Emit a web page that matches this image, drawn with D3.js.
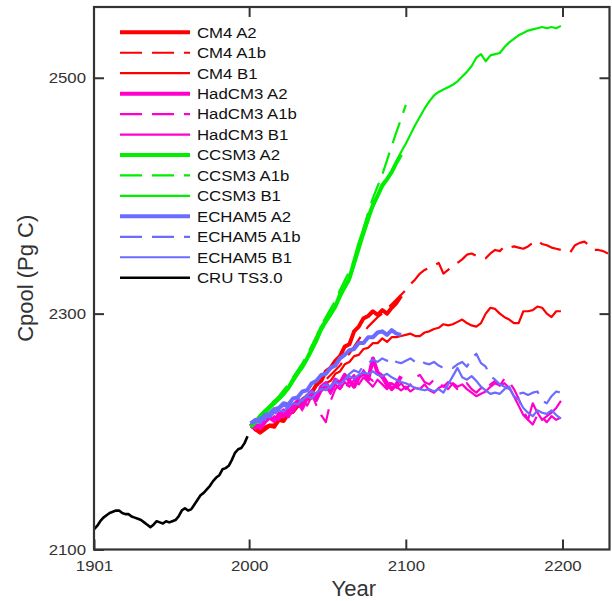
<!DOCTYPE html>
<html>
<head>
<meta charset="utf-8">
<script src="https://cdn.jsdelivr.net/npm/d3@7"></script>
<style>
  body { margin: 0; background: #fff; }
  text { font-family: "Liberation Sans", Arial, Helvetica, sans-serif; }
</style>
</head>
<body>
<div id="chart"></div>
<script>
// Model runs: annual-ish values sampled every 3 years starting 2001
const MODEL_START = 2001;
const MODEL_STEP = 3;
// Observed CRU: sampled every 2 years starting 1901
const CRU_START = 1901;
const CRU_STEP = 2;

const cm4A2 = [2207, 2202, 2199, 2202, 2205, 2204, 2210, 2209, 2215, 2217, 2222, 2225, 2230, 2233, 2240, 2243, 2251, 2254, 2260, 2264, 2272, 2274, 2285, 2289, 2296, 2298, 2302, 2299, 2303, 2300, 2305, 2309, 2315];
const cm4A1b = [2206, 2203, 2201, 2204, 2206, 2209, 2212, 2214, 2217, 2221, 2224, 2228, 2231, 2235, 2239, 2241, 2244, 2248, 2252, 2256, 2262, 2266, 2272, 2278, 2284, 2289, 2293, 2297, 2300, 2304, 2308, 2312, 2316,
  2320, 2325, 2329, 2334, 2337, 2339, 2341, 2343, 2334, 2337, 2340, 2343, 2346, 2350, 2351, 2349, 2347, 2347, 2351, 2354, 2353, 2357, 2356, 2357, 2356, 2355, 2357, 2360, 2362, 2359, 2358, 2356, 2355, 2354, 2353, 2352, 2358, 2360, 2361, 2358, 2354, 2354, 2353, 2351];
const cm4B1 = [2205, 2201, 2201, 2202, 2206, 2206, 2211, 2211, 2215, 2216, 2221, 2222, 2227, 2228, 2233, 2235, 2241, 2243, 2249, 2251, 2257, 2259, 2264, 2265, 2270, 2271, 2275, 2275, 2279, 2276, 2280, 2280, 2281,
  2282, 2283, 2281, 2281, 2284, 2285, 2287, 2288, 2291, 2290, 2291, 2293, 2295, 2292, 2290, 2289, 2292, 2300, 2305, 2304, 2300, 2297, 2295, 2292, 2292, 2302, 2302, 2303, 2306, 2305, 2300, 2297, 2302, 2302];

const hadA2 = [2204, 2206, 2203, 2208, 2212, 2209, 2214, 2218, 2213, 2222, 2226, 2220, 2230, 2234, 2228, 2238, 2241, 2235, 2244, 2241, 2248, 2243, 2238, 2246, 2250, 2244, 2262, 2250, 2247, 2241, 2236, 2240, 2247];
const hadA1b = [2205, 2202, 2207, 2211, 2206, 2213, 2210, 2217, 2212, 2220, 2224, 2218, 2228, 2232, 2222, 2214, 2208, 2226, 2236, 2240, 2234, 2244, 2248, 2240, 2252, 2246, 2243, 2250, 2245, 2238, 2243, 2237, 2241,
  2236, 2240, 2246, 2248, 2242, 2240, 2244, 2241, 2238, 2242, 2240, 2236, 2238, 2241, 2236, 2233, 2237, 2235, 2240, 2243, 2239, 2245, 2242, 2236, 2228, 2218, 2210, 2206, 2214, 2212, 2208, 2213, 2210, 2212];
const hadB1 = [2203, 2207, 2204, 2209, 2214, 2210, 2216, 2212, 2220, 2216, 2224, 2228, 2222, 2230, 2226, 2234, 2238, 2232, 2240, 2236, 2242, 2238, 2244, 2240, 2246, 2242, 2238, 2244, 2240, 2236, 2241, 2238, 2235,
  2238, 2234, 2237, 2236, 2240, 2235, 2233, 2237, 2239, 2236, 2241, 2238, 2240, 2236, 2233, 2230, 2232, 2234, 2238, 2241, 2239, 2241, 2237, 2230, 2222, 2214, 2210, 2224, 2216, 2210, 2213, 2216, 2220, 2226];

const ccsmA2 = [2204, 2208, 2213, 2217, 2221, 2225, 2228, 2232, 2237, 2244, 2250, 2255, 2262, 2270, 2278, 2288, 2294, 2300, 2306, 2316, 2323, 2330, 2344, 2358, 2370, 2382, 2392, 2400, 2409, 2414, 2420, 2428, 2435];
const ccsmA1b = [2205, 2209, 2214, 2218, 2222, 2226, 2230, 2235, 2240, 2246, 2252, 2258, 2265, 2273, 2281, 2290, 2297, 2304, 2311, 2320, 2328, 2336, 2345, 2358, 2372, 2386, 2398, 2408, 2418, 2430, 2442, 2454, 2465, 2477];
const ccsmB1 = [2204, 2207, 2211, 2215, 2219, 2223, 2227, 2231, 2236, 2242, 2248, 2254, 2261, 2268, 2276, 2285, 2292, 2298, 2305, 2313, 2321, 2328, 2340, 2353, 2366, 2378, 2390, 2399, 2407, 2413, 2421, 2429, 2437,
  2444, 2452, 2460, 2467, 2474, 2480, 2485, 2488, 2490, 2492, 2494, 2497, 2501, 2505, 2510, 2517, 2520, 2514, 2519, 2520, 2521, 2526, 2530, 2533, 2536, 2538, 2540, 2541, 2542, 2543, 2542, 2543, 2542, 2544];

const echamA2 = [2207, 2210, 2208, 2214, 2215, 2219, 2220, 2224, 2223, 2228, 2229, 2234, 2235, 2241, 2243, 2248, 2249, 2254, 2256, 2262, 2265, 2269, 2270, 2275, 2275, 2280, 2280, 2284, 2285, 2282, 2286, 2283, 2282];
const echamA1b = [2206, 2209, 2212, 2210, 2216, 2214, 2219, 2222, 2220, 2225, 2228, 2226, 2231, 2234, 2232, 2238, 2240, 2237, 2243, 2246, 2244, 2249, 2252, 2250, 2256, 2258, 2261, 2259, 2262, 2260, 2263, 2259, 2258,
  2260, 2262, 2259, 2261, 2258, 2257, 2259, 2256, 2254, 2255, 2254, 2257, 2259, 2255, 2262, 2266, 2258, 2255, 2247, 2244, 2240, 2238, 2236, 2234, 2232, 2233, 2231, 2233, 2234, 2226, 2224, 2230, 2234, 2233];
const echamB1 = [2207, 2208, 2211, 2213, 2212, 2216, 2218, 2217, 2221, 2224, 2223, 2227, 2230, 2228, 2233, 2236, 2235, 2239, 2242, 2240, 2244, 2247, 2245, 2248, 2250, 2249, 2251, 2248, 2247, 2249, 2246, 2244, 2242,
  2241, 2239, 2237, 2236, 2235, 2236, 2234, 2236, 2233, 2240, 2247, 2254, 2246, 2244, 2247, 2243, 2238, 2235, 2232, 2233, 2232, 2236, 2238, 2230, 2227, 2220, 2216, 2213, 2218, 2216, 2215, 2218, 2214, 2211];

const cru = [2117, 2120, 2124, 2127, 2129, 2131, 2132, 2133, 2133, 2131, 2130, 2130, 2128, 2127, 2126, 2125, 2123, 2121, 2119, 2121, 2124, 2123, 2122, 2124, 2123, 2124, 2125, 2128, 2133, 2135, 2133, 2134, 2138, 2142, 2146, 2148, 2151, 2154, 2158, 2161, 2163, 2168, 2169, 2171, 2176, 2182, 2185, 2186, 2190, 2196];

// Legend labels, same order as drawing
const seriesNames = ["CM4 A2", "CM4 A1b", "CM4 B1", "HadCM3 A2", "HadCM3 A1b", "HadCM3 B1", "CCSM3 A2", "CCSM3 A1b", "CCSM3 B1", "ECHAM5 A2", "ECHAM5 A1b", "ECHAM5 B1", "CRU TS3.0"];
const seriesValues = [cm4A2, cm4A1b, cm4B1, hadA2, hadA1b, hadB1, ccsmA2, ccsmA1b, ccsmB1, echamA2, echamA1b, echamB1, cru];

const xTicks = [1901, 2000, 2100, 2200];
const yTicks = [2100, 2300, 2500];

// Styles
const COLORS = ["#ff0000", "#ff0000", "#ff0000", "#ff00cc", "#ff00cc", "#ff00cc", "#00ee00", "#00ee00", "#00ee00", "#6b6bff", "#6b6bff", "#6b6bff", "#000000"];
const scenarioStyle = {
  A2: { width: 4, dash: null },
  A1b: { width: 2.2, dash: "22,10" },
  B1: { width: 2.2, dash: null },
  CRU: { width: 2.6, dash: null },
};

const width = 612;
const height = 601;
const plot = { left: 94, right: 609.5, top: 7, bottom: 549.5 };
const AXIS_COLOR = "#333";
// the reference text is a bit wider than Arial, so stretch it horizontally
const TEXT_STRETCH = 1.12;

const x = d3.scaleLinear().domain([1901, 2230]).range([plot.left, plot.right]);
const y = d3.scaleLinear().domain([2100, 2560]).range([plot.bottom, plot.top]);

function styleFor(name) {
  if (name.startsWith("CRU")) return scenarioStyle.CRU;
  return scenarioStyle[name.split(" ")[1]];
}

function toPoints(values, isCru) {
  const start = isCru ? CRU_START : MODEL_START;
  const step = isCru ? CRU_STEP : MODEL_STEP;
  return values.map((v, i) => [start + i * step, v]);
}

function draw() {
  const svg = d3.select("#chart").append("svg")
    .attr("width", width)
    .attr("height", height);

  // Clip so the lines stay inside the frame
  svg.append("clipPath").attr("id", "clip")
    .append("rect")
    .attr("x", plot.left).attr("y", plot.top)
    .attr("width", plot.right - plot.left)
    .attr("height", plot.bottom - plot.top);

  const line = d3.line().x((d) => x(d[0])).y((d) => y(d[1]));

  const lines = svg.append("g").attr("clip-path", "url(#clip)");
  seriesValues.forEach((vals, i) => {
    const st = styleFor(seriesNames[i]);
    lines.append("path")
      .datum(toPoints(vals, i === seriesValues.length - 1))
      .attr("d", line)
      .attr("fill", "none")
      .attr("stroke", COLORS[i])
      .attr("stroke-width", st.width)
      .attr("stroke-dasharray", st.dash)
      .attr("stroke-linejoin", "round");
  });

  // Axes with inward ticks on all four sides
  const fontSize = 15;
  const xb = svg.append("g")
    .attr("transform", `translate(0,${plot.bottom})`)
    .call(d3.axisBottom(x).tickValues(xTicks).tickFormat(d3.format("d")).tickSizeInner(-10).tickSizeOuter(0).tickPadding(11));
  const xt = svg.append("g")
    .attr("transform", `translate(0,${plot.top})`)
    .call(d3.axisTop(x).tickValues(xTicks.slice(1)).tickFormat("").tickSizeInner(-10).tickSizeOuter(0));
  const yl = svg.append("g")
    .attr("transform", `translate(${plot.left},0)`)
    .call(d3.axisLeft(y).tickValues(yTicks).tickFormat(d3.format("d")).tickSizeInner(-10).tickSizeOuter(0).tickPadding(8));
  const yr = svg.append("g")
    .attr("transform", `translate(${plot.right},0)`)
    .call(d3.axisRight(y).tickValues(yTicks.slice(1)).tickFormat("").tickSizeInner(-10).tickSizeOuter(0));

  [xb, xt, yl, yr].forEach((g) => {
    g.select(".domain").remove();
    g.selectAll(".tick line").attr("stroke", AXIS_COLOR).attr("stroke-width", 2);
    g.selectAll(".tick text")
      .attr("fill", AXIS_COLOR)
      .style("font-size", fontSize + "px")
      .style("font-family", '"Liberation Sans", Arial, sans-serif');
  });
  // stretch tick labels about their anchor point
  xb.selectAll(".tick text").attr("transform", `scale(${TEXT_STRETCH},1)`);
  yl.selectAll(".tick text")
    .attr("x", -8 / TEXT_STRETCH)
    .attr("transform", `scale(${TEXT_STRETCH},1)`);

  // Frame
  svg.append("rect")
    .attr("x", plot.left).attr("y", plot.top)
    .attr("width", plot.right - plot.left)
    .attr("height", plot.bottom - plot.top)
    .attr("fill", "none")
    .attr("stroke", AXIS_COLOR)
    .attr("stroke-width", 2.2);

  // Axis titles
  svg.append("text")
    .attr("x", (plot.left + plot.right) / 2 + 2)
    .attr("y", 596)
    .attr("text-anchor", "middle")
    .attr("fill", AXIS_COLOR)
    .style("font-size", "22px")
    .text("Year");

  svg.append("text")
    .attr("transform", `translate(33,${(plot.top + plot.bottom) / 2}) rotate(-90)`)
    .attr("text-anchor", "middle")
    .attr("fill", AXIS_COLOR)
    .style("font-size", "22px")
    .text("Cpool (Pg C)");

  // Legend
  const legend = svg.append("g");
  seriesNames.forEach((name, i) => {
    const st = styleFor(name);
    const cy = 32.3 + i * 20.45;
    legend.append("line")
      .attr("x1", 120).attr("x2", 190)
      .attr("y1", cy).attr("y2", cy)
      .attr("stroke", COLORS[i])
      .attr("stroke-width", st.width)
      .attr("stroke-dasharray", st.dash);
    legend.append("text")
      .attr("transform", `translate(197,${cy + 5.3}) scale(${TEXT_STRETCH},1)`)
      .attr("fill", "#111")
      .style("font-size", fontSize + "px")
      .text(name);
  });
}

draw();
</script>
</body>
</html>
